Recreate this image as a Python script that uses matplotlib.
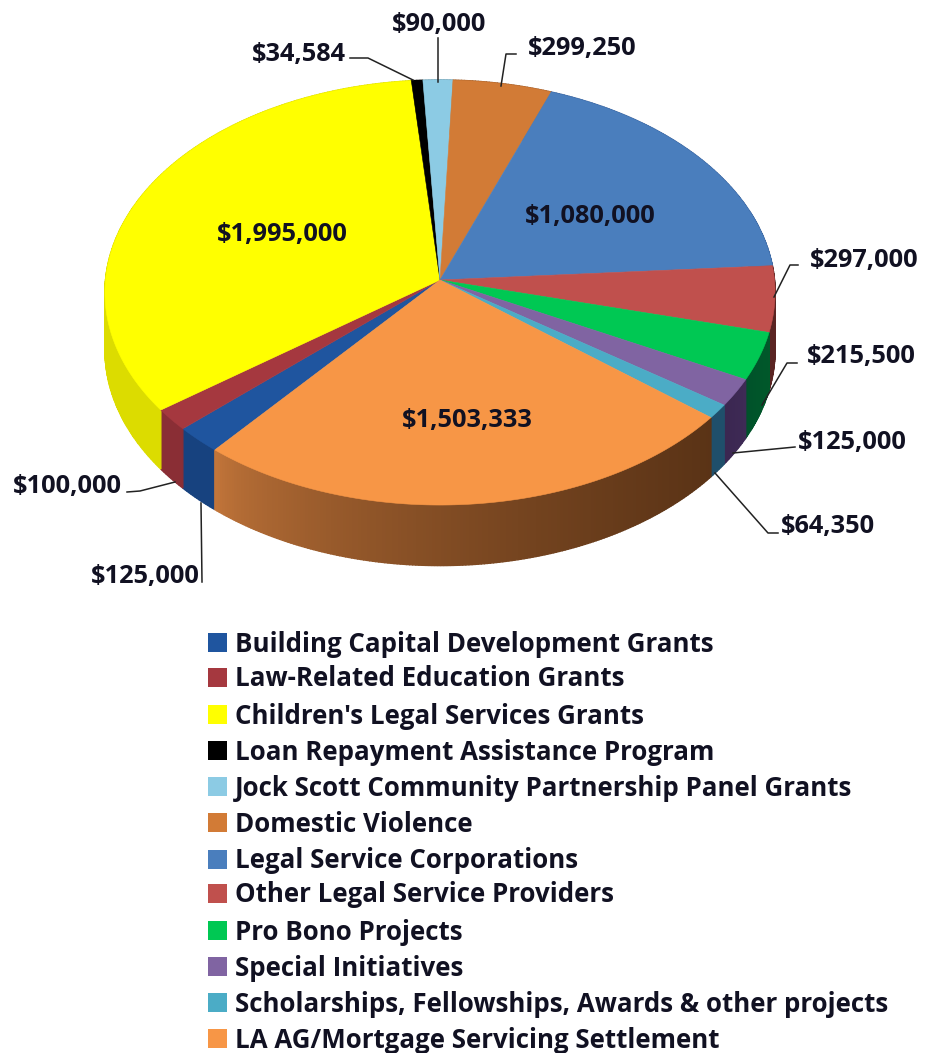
import numpy as np
import matplotlib

matplotlib.use("Agg")
import matplotlib.pyplot as plt
from matplotlib.colors import to_rgb
from matplotlib.patches import Polygon, Rectangle

plt.rcParams["font.family"] = ["Open Sans", "DejaVu Sans"]

categories = [
    "Building Capital Development Grants",
    "Law-Related Education Grants",
    "Children's Legal Services Grants",
    "Loan Repayment Assistance Program",
    "Jock Scott Community Partnership Panel Grants",
    "Domestic Violence",
    "Legal Service Corporations",
    "Other Legal Service Providers",
    "Pro Bono Projects",
    "Special Initiatives",
    "Scholarships, Fellowships, Awards & other projects",
    "LA AG/Mortgage Servicing Settlement",
]
values = [125000, 100000, 1995000, 34584, 90000, 299250,
          1080000, 297000, 215500, 125000, 64350, 1503333]
top_colors = ["#1f559f", "#a5383f", "#ffff00", "#000000", "#8ccbe4", "#d27b36",
              "#4a7ebd", "#c0504d", "#00c853", "#8064a2", "#4bacc6", "#f79646"]
# rim shade at the left and right end of each slice
side_left = ["#17427f", "#8a2e35", "#dcdc00", "#000000", "#6a9aad", "#a05c28",
             "#38609a", "#5a2422", "#00502a", "#3a2650", "#1f4f6b", "#c5773b"]
side_right = ["#17427f", "#8a2e35", "#dcdc00", "#000000", "#6a9aad", "#a05c28",
              "#38609a", "#5a2422", "#00582a", "#3e2a55", "#1f4f6b", "#5a3316"]

# label text, centre of text, leader line path (pixels of the 931x1053 canvas)
labels = [
    ("$125,000", 145, 576, [(202, 582), (201, 503)]),
    ("$100,000", 67, 486, [(127, 492), (140, 491), (175, 482)]),
    ("$1,995,000", 282, 234, None),
    ("$34,584", 299, 54, [(350, 58), (368, 58), (413, 80)]),
    ("$90,000", 439, 24, [(438, 38), (438, 82)]),
    ("$299,250", 582, 48, [(516, 54), (506, 54), (501, 86)]),
    ("$1,080,000", 590, 217, None),
    ("$297,000", 864, 260, [(798, 265), (790, 265), (774, 297)]),
    ("$215,500", 861, 357, [(797, 363), (787, 363), (762, 405)]),
    ("$125,000", 852, 442, [(795, 447), (733, 453)]),
    ("$64,350", 828, 527, [(778, 533), (768, 533), (715, 473)]),
    ("$1,503,333", 467, 420, None),
]
legend_y = [642, 677, 714, 750, 786, 822, 859, 893, 930, 966, 1002, 1038]

# pie geometry: apex, radii, perspective and rim depth
CX, CY = 440, 280
RX, RY = 334.5, 211.8
K = 0.0588
DEPTH = 57
START = 220.0  # clock angle of first slice


def project(clock_deg):
    t = np.radians(clock_deg)
    gx = np.sin(t)
    gy = -np.cos(t)  # towards viewer is positive
    w = 1 / (1 - K * gy)
    return CX + RX * gx * w, CY + RY * gy * w, w


fig = plt.figure(figsize=(9.31, 10.53), dpi=100)
ax = fig.add_axes([0, 0, 1, 1])
ax.set_xlim(0, 931)
ax.set_ylim(1053, 0)
ax.axis("off")

total = sum(values)
edges = START + 360 * np.concatenate([[0], np.cumsum(values)]) / total

# rim first, the top face then covers the hidden part
for i in range(len(values)):
    n = max(2, int((edges[i + 1] - edges[i]) / 0.5))
    ang = np.linspace(edges[i], edges[i + 1], n + 1)
    all_x = project(ang)[0]
    c0, c1 = np.array(to_rgb(side_left[i])), np.array(to_rgb(side_right[i]))
    for j in range(n):
        x, y, w = project(ang[j:j + 2])
        pts = np.column_stack([np.r_[x, x[::-1]], np.r_[y, (y + DEPTH * w)[::-1]]])
        f = (x.mean() - all_x.min()) / max(all_x.max() - all_x.min(), 1)
        col = c0 + (c1 - c0) * f ** 0.6
        ax.add_patch(Polygon(pts, closed=True, fc=col, ec=col, lw=1.0, zorder=2))

for i in range(len(values)):
    ang = np.linspace(edges[i], edges[i + 1], max(3, int(edges[i + 1] - edges[i]) * 2))
    x, y, _ = project(ang)
    pts = np.column_stack([np.r_[CX, x], np.r_[CY, y]])
    ax.add_patch(Polygon(pts, closed=True, fc=top_colors[i], ec=top_colors[i], lw=0.4, zorder=3))

for text, tx, ty, path in labels:
    ax.text(tx, ty, text, ha="center", va="center", fontsize=18.3, fontweight="bold",
            color="#111122", zorder=5)
    if path:
        px, py = zip(*path)
        ax.plot(px, py, color="#222222", lw=1.1, zorder=4)

for name, col, y in zip(categories, top_colors, legend_y):
    ax.add_patch(Rectangle((208, y - 9), 19, 19, fc=col, ec="none", zorder=3))
    ax.text(235, y + 2, name, ha="left", va="center", fontsize=18.6, fontweight="bold",
            color="#111122", zorder=5)

fig.savefig("out.png", dpi=100)
